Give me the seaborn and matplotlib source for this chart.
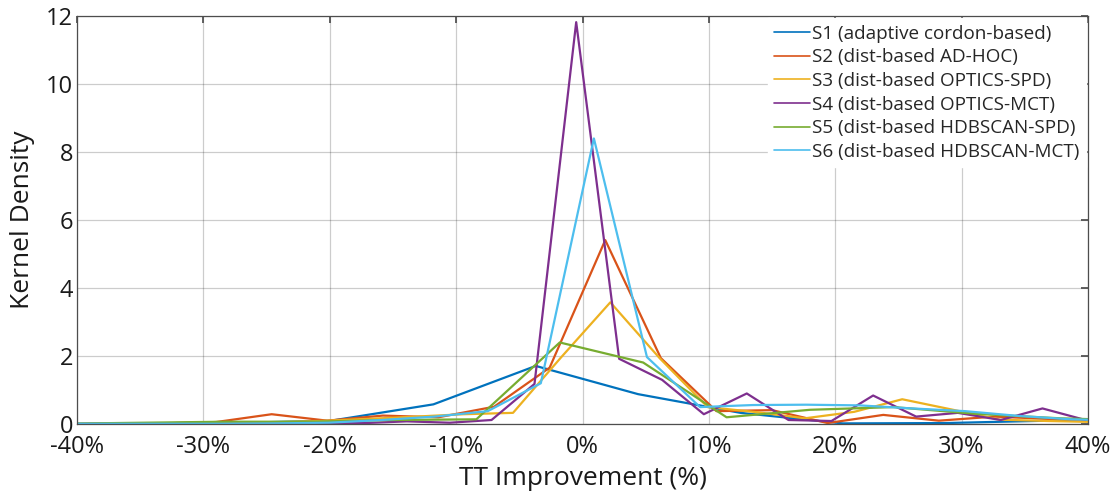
import matplotlib
matplotlib.use("Agg")
import matplotlib.pyplot as plt
import matplotlib.ticker as mticker
import pandas as pd
import seaborn as sns

# Kernel density estimates of travel-time improvement for each scheme
s1_x = [-44.2, -36.1, -28.0, -19.9, -11.8, -3.7, 4.4, 12.5, 20.6, 28.7, 36.8, 44.9]
s1_y = [0.00, 0.01, 0.03, 0.10, 0.58, 1.71, 0.88, 0.33, 0.02, 0.03, 0.10, 0.20]

s2_x = [-42.2, -37.8, -33.4, -29.0, -24.6, -20.2, -15.8, -11.4, -7.0, -2.6, 1.8,
        6.2, 10.6, 15.0, 19.4, 23.8, 28.2, 32.6, 37.0, 41.4]
s2_y = [0.00, 0.01, 0.02, 0.06, 0.29, 0.10, 0.25, 0.20, 0.51, 1.66, 5.41,
        1.94, 0.38, 0.41, 0.03, 0.27, 0.10, 0.22, 0.15, 0.10]

s3_x = [-40.2, -36.3, -32.5, -28.6, -24.8, -20.9, -17.1, -13.2, -9.4, -5.5, -1.7,
        2.2, 6.1, 9.9, 13.8, 17.6, 21.5, 25.3, 29.2, 33.0, 36.9, 40.7]
s3_y = [0.00, 0.01, 0.02, 0.03, 0.05, 0.09, 0.15, 0.22, 0.29, 0.33, 1.96,
        3.58, 1.94, 0.50, 0.35, 0.17, 0.36, 0.73, 0.43, 0.13, 0.09, 0.06]

s4_x = [-40.7, -37.3, -34.0, -30.6, -27.3, -23.9, -20.6, -17.2, -13.9, -10.5, -7.2,
        -3.8, -0.5, 2.9, 6.3, 9.6, 13.0, 16.3, 19.7, 23.0, 26.4, 29.7, 33.1, 36.4, 39.8]
s4_y = [0.00, 0.01, 0.01, 0.01, 0.01, 0.02, 0.02, 0.03, 0.08, 0.04, 0.12,
        1.18, 11.82, 1.92, 1.30, 0.29, 0.90, 0.12, 0.09, 0.84, 0.22, 0.33, 0.12, 0.46, 0.12]

s5_x = [-41.4, -34.8, -28.2, -21.6, -15.0, -8.4, -1.8, 4.8, 11.4, 18.0, 24.6, 31.2, 37.8, 44.4]
s5_y = [0.01, 0.04, 0.07, 0.07, 0.12, 0.14, 2.40, 1.81, 0.20, 0.42, 0.50, 0.30, 0.17, 0.10]

s6_x = [-41.1, -36.9, -32.7, -28.5, -24.3, -20.1, -15.9, -11.7, -7.5, -3.3, 0.9,
        5.1, 9.3, 13.5, 17.7, 21.9, 26.1, 30.3, 34.5, 38.7, 42.9]
s6_y = [0.01, 0.01, 0.01, 0.01, 0.02, 0.04, 0.12, 0.22, 0.38, 1.20, 8.40,
        1.97, 0.50, 0.56, 0.57, 0.55, 0.46, 0.38, 0.24, 0.14, 0.10]

names = ["S1 (adaptive cordon-based)", "S2 (dist-based AD-HOC)",
         "S3 (dist-based OPTICS-SPD)", "S4 (dist-based OPTICS-MCT)",
         "S5 (dist-based HDBSCAN-SPD)", "S6 (dist-based HDBSCAN-MCT)"]
colors = ["#0072BD", "#D95319", "#EDB120", "#7E2F8E", "#77AC30", "#4DBEEE"]

xs = [s1_x, s2_x, s3_x, s4_x, s5_x, s6_x]
ys = [s1_y, s2_y, s3_y, s4_y, s5_y, s6_y]
frames = [pd.DataFrame({"x": x, "y": y, "scheme": n}) for x, y, n in zip(xs, ys, names)]
df = pd.concat(frames, ignore_index=True)

sns.set_theme(style="white")
plt.rcParams["font.family"] = ["Open Sans", "DejaVu Sans"]

fig = plt.figure(figsize=(11.2, 4.96), dpi=100)
ax = fig.add_axes([0.0688, 0.145, 0.9026, 0.8227])

sns.lineplot(data=df, x="x", y="y", hue="scheme", hue_order=names,
             palette=colors, estimator=None, sort=False, linewidth=1.6, ax=ax)

ax.set_xlim(-40, 40)
ax.set_ylim(0, 12)
ax.set_xticks(range(-40, 41, 10))
ax.set_yticks(range(0, 13, 2))
ax.xaxis.set_major_formatter(mticker.FuncFormatter(lambda v, p: f"{int(v)}%"))
ax.grid(True, color="#000000", alpha=0.2, linewidth=0.9)
ax.set_axisbelow(True)
for sp in ax.spines.values():
    sp.set_color("#4d4d4d")
    sp.set_linewidth(0.9)
ax.tick_params(axis="both", direction="in", length=5, color="#4d4d4d",
               labelsize=17, labelcolor="#1a1a1a", top=True, right=True)
ax.tick_params(axis="x", pad=8)
ax.tick_params(axis="y", pad=3)
ax.set_xlabel("TT Improvement (%)", fontsize=19, color="#1a1a1a", labelpad=5)
ax.set_ylabel("Kernel Density", fontsize=19, color="#1a1a1a", labelpad=8)

leg = ax.legend(loc="upper right", fontsize=13.6, frameon=True, fancybox=False,
                edgecolor="white", facecolor="white", framealpha=1,
                handlelength=1.9, handletextpad=0.1, labelspacing=0.3,
                borderaxespad=0.1, borderpad=0.35)
for line in leg.get_lines():
    line.set_linewidth(1.2)

fig.savefig("out.png", dpi=100)
